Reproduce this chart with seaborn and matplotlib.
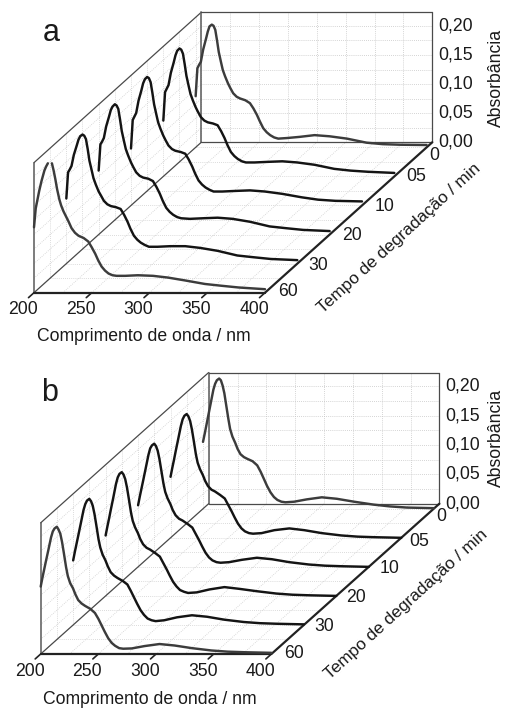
#!/usr/bin/env python3

"""
Two oblique waterfall plots of absorbance spectra against degradation time.
"""

import matplotlib
matplotlib.use("Agg")
import matplotlib.pyplot as plt
import numpy as np
import pandas as pd
import seaborn as sns

WAVELENGTH = [200, 201.5, 203, 204.5, 206.5, 209, 210.5, 212, 214, 215.5, 217, 218.5, 220, 222,
              223.5, 225.5, 228, 230, 232.5, 235.5, 238.5, 243, 247, 250, 253, 255.5, 258.5,
              261.5, 264.5, 268, 271.5, 279, 290, 303, 316, 331, 348, 362, 377, 400]
TIME_LABELS = ["60", "30", "20", "10", "05", "0"]  # front to back
WAVE_TICKS = [200, 250, 300, 350, 400]
ABS_TICKS = [0.00, 0.05, 0.10, 0.15, 0.20]
ABS_LABELS = ["0,00", "0,05", "0,10", "0,15", "0,20"]

nan = float("nan")

# Panel a, absorbance per degradation time
A_60 = [.1125, .145, .160, .175, .192, .210, .217, .2225, nan, .2225, .210, .195, .178, .160,
        .150, .140, .130, .122, .111, .103, .098, .094, .088, .078, .067, .056, .045,
        .038, .033, .030, .029, .029, .030, .029, .026, .021, .015, .012, .009, .006]
A_30 = [.112, .157, .162, .168, .187, .203, .213, .219, .222, .220, .214, .197, .177, .160,
        .147, .136, .124, .117, .108, .102, .099, .097, .094, .084, .072, .060, .048,
        .041, .036, .032, .029, .029, .030, .030, .027, .022, .014, .011, .008, .006]
A_20 = [.110, .155, .160, .166, .186, .203, .214, .220, .224, .222, .216, .198, .178, .160,
        .147, .136, .124, .116, .107, .101, .098, .096, .092, .082, .070, .058, .046,
        .039, .034, .030, .028, .027, .028, .029, .027, .022, .014, .011, .008, .006]
A_10 = [.098, .147, .153, .159, .180, .198, .210, .217, .221, .219, .212, .194, .174, .156,
        .143, .132, .120, .112, .103, .097, .094, .092, .089, .079, .067, .055, .043,
        .036, .031, .027, .024, .024, .025, .026, .024, .020, .014, .010, .008, .007]
A_05 = [.096, .145, .151, .157, .178, .196, .208, .216, .220, .218, .211, .193, .173, .155,
        .142, .131, .119, .111, .102, .096, .093, .091, .088, .078, .066, .054, .042,
        .035, .030, .026, .024, .024, .025, .026, .024, .020, .013, .010, .008, .006]
A_00 = [.088, .136, .142, .147, .168, .187, .199, .208, .211, .209, .202, .184, .164, .146,
        .133, .122, .110, .102, .093, .087, .084, .081, .076, .067, .056, .045, .033,
        .026, .021, .017, .015, .016, .018, .021, .019, .015, .008, .0055, .0045, .004]

# Panel b, absorbance per degradation time
B_60 = [.115, .130, .144, .158, .176, .199, .209, .214, .217, .212, .205, .191, .173, .148,
        .133, .121, .112, .102, .092, .086, .082, .077, .070, .060, .048, .038, .027,
        .019, .014, .010, .009, .0095, .0135, .017, .0145, .010, .006, .004, .003, .002]
B_30 = [.110, .125, .139, .153, .172, .196, .206, .212, .215, .211, .203, .189, .171, .146,
        .132, .120, .110, .100, .090, .084, .080, .075, .069, .058, .046, .036, .025,
        .017, .011, .008, .0065, .008, .013, .0165, .014, .009, .005, .003, .002, .001]
B_20 = [.103, .118, .132, .147, .166, .191, .202, .208, .211, .207, .199, .185, .167, .142,
        .128, .117, .107, .097, .088, .082, .079, .073, .067, .056, .045, .035, .024,
        .016, .010, .007, .005, .006, .011, .015, .012, .008, .004, .002, .001, .000]
B_10 = [.105, .120, .134, .148, .167, .191, .202, .207, .210, .206, .198, .184, .166, .142,
        .128, .117, .107, .097, .088, .082, .079, .073, .067, .056, .045, .035, .024,
        .016, .011, .008, .007, .008, .012, .0155, .013, .008, .004, .002, .001, .000]
B_05 = [.104, .119, .133, .148, .167, .191, .202, .208, .211, .207, .199, .185, .167, .142,
        .128, .117, .107, .097, .088, .082, .079, .073, .067, .056, .045, .035, .024,
        .016, .011, .008, .007, .008, .013, .016, .013, .008, .004, .002, .001, .000]
B_00 = [.114, .128, .143, .158, .178, .203, .213, .219, .222, .219, .210, .197, .178, .153,
        .136, .123, .112, .102, .093, .088, .085, .081, .074, .063, .050, .039, .028,
        .020, .015, .012, .011, .012, .016, .0195, .017, .012, .007, .004, .002, .001]

# Projection of each panel on the page, in pixels
PANELS = {
    "a": dict(series=[A_60, A_30, A_20, A_10, A_05, A_00], x0=34.0, y0=292.7, per_nm=1.155,
              step=(32.33, 29.07), per_abs=581.6,
              time_off=[(23, -1), (21, 1.5), (22, 0.5), (23, 1), (22, 0.5), (8, 8)],
              letter=(51, 33), xlabel=(143.7, 336.7), zlabel=(496.7, 78), tlabel=(399, 238)),
    "b": dict(series=[B_60, B_30, B_20, B_10, B_05, B_00], x0=40.7, y0=654.0, per_nm=1.1535,
              step=(32.46, 29.05), per_abs=586.6,
              time_off=[(23, 0), (20, 1.5), (20, 1.5), (21, 2), (17.5, 4), (8, 8)],
              letter=(50, 393), xlabel=(150, 699), zlabel=(496.5, 438), tlabel=(405.7, 604)),
}
DEPTH_MAX = 5.175
ABS_MAX = 0.2236
GRID = dict(color="#c6c6c6", lw=0.6, ls=(0, (1, 1.5)), zorder=1)
GRID_SOFT = dict(color="#cfcfcf", lw=0.6, ls=(0, (1, 1.5)), zorder=1)
TEXT = "#1a1a1a"


def project(p, wave, depth, absorb):
    x = p["x0"] + (np.asarray(wave, dtype=float) - 200) * p["per_nm"] + np.asarray(depth, dtype=float) * p["step"][0]
    y = p["y0"] - np.asarray(depth, dtype=float) * p["step"][1] - np.asarray(absorb, dtype=float) * p["per_abs"]
    return x, y


def box_line(ax, p, start, end, **kw):
    x, y = project(p, [start[0], end[0]], [start[1], end[1]], [start[2], end[2]])
    ax.plot(x, y, **kw)


def draw_frame(ax, p):
    # dotted grid on the back wall, the left wall and the floor
    for wave in np.arange(200, 401, 25):
        box_line(ax, p, (wave, DEPTH_MAX, 0), (wave, DEPTH_MAX, ABS_MAX), **GRID)
        box_line(ax, p, (wave, 0, 0), (wave, DEPTH_MAX, 0), **GRID_SOFT)
    for level in np.arange(0.025, 0.21, 0.025):
        box_line(ax, p, (200, DEPTH_MAX, level), (400, DEPTH_MAX, level), **GRID)
        box_line(ax, p, (200, 0, level), (200, DEPTH_MAX, level), **GRID_SOFT)
    for depth in np.arange(0.5, DEPTH_MAX, 0.5):
        box_line(ax, p, (200, depth, 0), (200, depth, ABS_MAX), **GRID_SOFT)
        box_line(ax, p, (200, depth, 0), (400, depth, 0), **GRID_SOFT)

    # box outline
    wall = dict(color="#4a4a4a", lw=0.9, zorder=2)
    box_line(ax, p, (200, 0, 0), (200, 0, ABS_MAX), **{**wall, "lw": 1.2, "color": "#666666"})
    box_line(ax, p, (200, 0, ABS_MAX), (200, DEPTH_MAX, ABS_MAX), **wall)
    box_line(ax, p, (200, DEPTH_MAX, 0), (200, DEPTH_MAX, ABS_MAX), **{**wall, "lw": 1.2, "color": "#666666"})
    box_line(ax, p, (200, DEPTH_MAX, ABS_MAX), (400, DEPTH_MAX, ABS_MAX), **wall)
    box_line(ax, p, (400, DEPTH_MAX, 0), (400, DEPTH_MAX, ABS_MAX), **wall)
    box_line(ax, p, (200, DEPTH_MAX, 0), (400, DEPTH_MAX, 0), **wall)
    box_line(ax, p, (200, 0, 0), (200, DEPTH_MAX, 0), **wall)
    heavy = dict(color="#222222", lw=1.6, zorder=2)
    box_line(ax, p, (200, 0, 0), (400, 0, 0), **heavy)
    box_line(ax, p, (400, 0, 0), (400, DEPTH_MAX, 0), **heavy)
    for wave in WAVE_TICKS:
        box_line(ax, p, (wave, 0, 0), (wave, -0.17, 0), color="#222222", lw=1.2, zorder=2)


def draw_text(ax, name, p):
    font = 12.7
    ax.text(*p["letter"], name, fontsize=22, ha="center", va="center", color=TEXT)
    for wave in WAVE_TICKS:
        x, y = project(p, wave, 0, 0)
        ax.text(x - 11, y + 17, str(wave), fontsize=font, ha="center", va="center", color=TEXT)
    for level, label in zip(ABS_TICKS, ABS_LABELS):
        x, y = project(p, 400, DEPTH_MAX, level)
        ax.text(x + 6, y, label, fontsize=font, ha="left", va="center", color=TEXT)
    for depth, (label, off) in enumerate(zip(TIME_LABELS, p["time_off"])):
        x, y = project(p, 400, depth, 0)
        ax.text(x + off[0], y + off[1], label, fontsize=font, ha="center", va="center", color=TEXT)
    ax.text(*p["xlabel"], "Comprimento de onda / nm", fontsize=12.7, ha="center", va="center", color=TEXT)
    ax.text(*p["zlabel"], "Absorbância", fontsize=12.7, rotation=90, ha="center", va="center", color=TEXT)
    ax.text(*p["tlabel"], "Tempo de degradação / min", fontsize=12.4, rotation=42.3,
            rotation_mode="anchor", ha="center", va="center", color=TEXT)


def curves_table():
    frames = []
    for name, p in PANELS.items():
        for depth, values in enumerate(p["series"]):
            x, y = project(p, WAVELENGTH, depth, values)
            frame = pd.DataFrame({"px": x, "py": y})
            # a gap in the values splits the curve in two pieces
            piece = frame["py"].isna().cumsum().astype(str)
            frame["unit"] = f"{name}{depth}-" + piece
            # the first and last curve of each panel are printed lighter
            frame["tone"] = "light" if depth in (0, 5) else "dark"
            frames.append(frame.dropna())
    return pd.concat(frames, ignore_index=True)


def main():
    sns.set_style("white")
    plt.rcParams["font.family"] = ["Liberation Sans", "DejaVu Sans"]

    fig = plt.figure(figsize=(5.05, 7.08), dpi=100)
    ax = fig.add_axes([0, 0, 1, 1])
    ax.set_xlim(0, 505)
    ax.set_ylim(708, 0)
    ax.axis("off")

    for name, p in PANELS.items():
        draw_frame(ax, p)
        draw_text(ax, name, p)

    sns.lineplot(
        data=curves_table(), x="px", y="py", units="unit", hue="tone",
        palette={"light": "#3c3c3c", "dark": "#141414"}, estimator=None, sort=False,
        legend=False, lw=1.75, zorder=3, ax=ax,
    )
    ax.set_xlim(0, 505)
    ax.set_ylim(708, 0)

    fig.savefig("out.png", dpi=100)


if __name__ == "__main__":
    main()
